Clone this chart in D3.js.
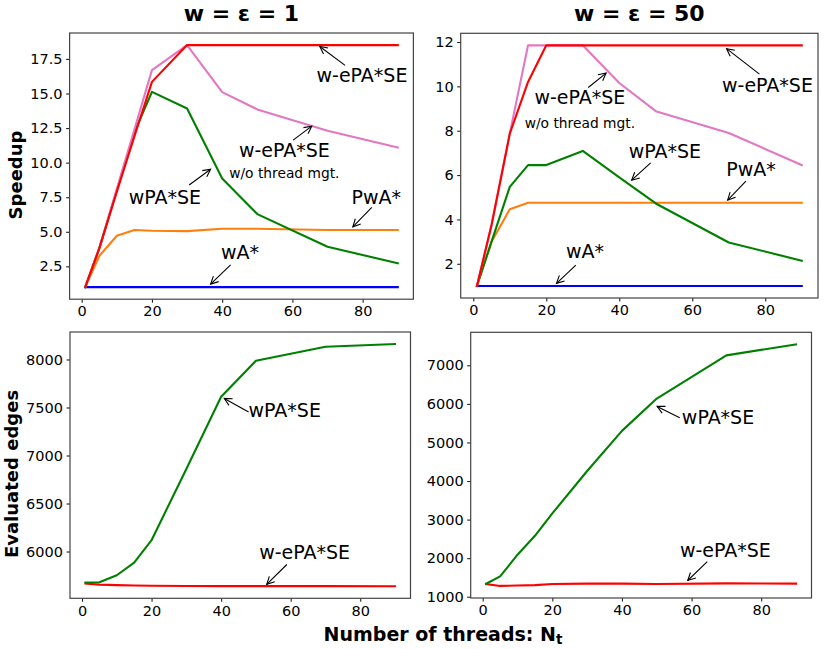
<!DOCTYPE html>
<html>
<head>
<meta charset="utf-8">
<script src="https://cdn.jsdelivr.net/npm/d3@7/dist/d3.min.js"></script>
<style>
  body { margin: 0; background: #fff; }
  svg { display: block; font-family: "DejaVu Sans", sans-serif; }
</style>
</head>
<body>
<svg id="chart" width="830" height="649"></svg>
<script>
// ---------------- DATA ----------------
const threads = [1, 5, 10, 15, 20, 30, 40, 50, 70, 90];
const xTicks = [0, 20, 40, 60, 80];

// Speedup, w = eps = 1
const wA_1      = [1, 1, 1, 1, 1, 1, 1, 1, 1, 1];
const PwA_1     = [1, 3.25, 4.71, 5.13, 5.08, 5.05, 5.22, 5.22, 5.13, 5.13];
const wPASE_1   = [1, 3.8, 8.0, 12.2, 15.12, 13.92, 8.86, 6.28, 3.92, 2.72];
const wePASEnoTM_1 = [1, 3.8, 8.1, 12.4, 16.69, 18.5, 15.1, 13.85, 12.3, 11.1];
const wePASE_1  = [1, 3.8, 7.9, 11.9, 15.84, 18.5, 18.5, 18.5, 18.5, 18.5];

// Speedup, w = eps = 50
const wA_50     = [1, 1, 1, 1, 1, 1, 1, 1, 1, 1];
const PwA_50    = [1, 2.99, 4.46, 4.75, 4.75, 4.75, 4.75, 4.75, 4.75, 4.75];
const wPASE_50  = [1, 3.0, 5.47, 6.45, 6.45, 7.09, 5.9, 4.72, 2.96, 2.14];
const wePASEnoTM_50 = [1, 3.75, 7.87, 11.85, 11.85, 11.85, 10.15, 8.88, 7.9, 6.45];
const wePASE_50 = [1, 3.75, 7.87, 10.2, 11.85, 11.85, 11.85, 11.85, 11.85, 11.85];

// Evaluated edges
const edges_wPASE_1   = [5677, 5680, 5753, 5885, 6118, 6860, 7612, 7987, 8132, 8160];
const edges_wePASE_1  = [5667, 5655, 5650, 5646, 5643, 5641, 5640, 5640, 5640, 5639];
const edges_wPASE_50  = [1336, 1527, 2090, 2580, 3160, 4260, 5300, 6137, 7258, 7543];
const edges_wePASE_50 = [1330, 1280, 1290, 1300, 1330, 1340, 1340, 1330, 1345, 1340];

const ticksSpeed1 = [2.5, 5.0, 7.5, 10.0, 12.5, 15.0, 17.5];
const ticksSpeed50 = [2, 4, 6, 8, 10, 12];
const ticksEdges1 = [6000, 6500, 7000, 7500, 8000];
const ticksEdges50 = [1000, 2000, 3000, 4000, 5000, 6000, 7000];

const titles = ["w = ε = 1", "w = ε = 50"];

// ---------------- STYLE / LAYOUT ----------------
const C = { wA: "#0000ff", PwA: "#ff7f0e", wPASE: "#008000", noTM: "#e377c2", wePASE: "#ff0000" };

const panels = [
  { box: [69.6, 413.4, 33.0, 299.2], series: [[wA_1, C.wA], [PwA_1, C.PwA], [wPASE_1, C.wPASE], [wePASEnoTM_1, C.noTM], [wePASE_1, C.wePASE]],
    yt: ticksSpeed1, fmt: d3.format(".1f"), title: titles[0],
    ann: [
      { t: "w-ePA*SE", tx: 79.8, ty: 15.8, ax: 75.0, ay: 17.03, hx: 67.8, hy: 18.4 },
      { t: "w-ePA*SE", t2: "w/o thread mgt.", tx: 57.7, ty: 10.42, ty2: 8.88, ax: 60.2, ay: 11.63, hx: 65.5, hy: 12.64 },
      { t: "wPA*SE", tx: 23.7, ty: 7.03, ax: 30.6, ay: 8.38, hx: 36.7, hy: 9.52 },
      { t: "PwA*", tx: 83.9, ty: 7.0, ax: 82.6, ay: 6.77, hx: 77.2, hy: 5.36 },
      { t: "wA*", tx: 45.1, ty: 3.0, ax: 42.4, ay: 2.6, hx: 36.7, hy: 1.22 }
    ] },
  { box: [460.7, 818.0, 33.3, 298.0], series: [[wA_50, C.wA], [PwA_50, C.PwA], [wPASE_50, C.wPASE], [wePASEnoTM_50, C.noTM], [wePASE_50, C.wePASE]],
    yt: ticksSpeed50, fmt: d3.format("d"), title: titles[1],
    ann: [
      { t: "w-ePA*SE", tx: 80.6, ty: 9.75, ax: 78.4, ay: 10.55, hx: 69.4, hy: 11.7 },
      { t: "w-ePA*SE", t2: "w/o thread mgt.", tx: 29.2, ty: 9.19, ty2: 8.13, ax: 31.5, ay: 9.95, hx: 36.4, hy: 10.6 },
      { t: "wPA*SE", tx: 52.5, ty: 6.75, ax: 48.6, ay: 6.55, hx: 43.4, hy: 5.77 },
      { t: "PwA*", tx: 76.1, ty: 5.95, ax: 74.7, ay: 5.73, hx: 69.7, hy: 4.87 },
      { t: "wA*", tx: 30.6, ty: 2.24, ax: 28.1, ay: 1.94, hx: 22.8, hy: 1.12 }
    ] },
  { box: [70.0, 410.5, 332.0, 598.3], series: [[edges_wePASE_1, C.wePASE], [edges_wPASE_1, C.wPASE]],
    yt: ticksEdges1, fmt: d3.format("d"),
    ann: [
      { t: "wPA*SE", tx: 58.3, ty: 7402, ax: 47.9, ay: 7454, hx: 40.9, hy: 7594 },
      { t: "w-ePA*SE", tx: 64.0, ty: 5917, ax: 58.9, ay: 5865, hx: 53.1, hy: 5659 }
    ] },
  { box: [470.7, 811.5, 332.3, 598.0], series: [[edges_wePASE_50, C.wePASE], [edges_wPASE_50, C.wPASE]],
    yt: ticksEdges50, fmt: d3.format("d"),
    ann: [
      { t: "wPA*SE", tx: 67.6, ty: 5488, ax: 56.6, ay: 5643, hx: 50.1, hy: 5935 },
      { t: "w-ePA*SE", tx: 69.7, ty: 2041, ax: 64.5, ay: 1912, hx: 58.9, hy: 1421 }
    ] }
];

const svg = d3.select("#chart");

function padDomain(arrs) {
  const all = arrs.flat();
  const lo = d3.min(all), hi = d3.max(all), p = (hi - lo) * 0.05;
  return [lo - p, hi + p];
}

const xDom = [threads[0] - (threads[threads.length-1] - threads[0]) * 0.05,
              threads[threads.length-1] + (threads[threads.length-1] - threads[0]) * 0.05];

panels.forEach(p => {
  const [l, r, t, b] = p.box;
  const x = d3.scaleLinear().domain(xDom).range([l, r]);
  const y = d3.scaleLinear().domain(padDomain(p.series.map(s => s[0]))).range([b, t]);
  const g = svg.append("g");

  const clipId = "clip" + Math.round(l) + Math.round(t);
  svg.append("clipPath").attr("id", clipId).append("rect")
    .attr("x", l).attr("y", t).attr("width", r - l).attr("height", b - t);

  const line = d3.line().x((d, i) => x(threads[i])).y(d => y(d));
  const lg = g.append("g").attr("clip-path", `url(#${clipId})`);
  p.series.forEach(([vals, col]) => {
    lg.append("path").datum(vals).attr("d", line)
      .attr("fill", "none").attr("stroke", col).attr("stroke-width", 2.1)
      .attr("stroke-linejoin", "round").attr("stroke-linecap", "square");
  });

  // axes
  const xa = g.append("g").attr("transform", `translate(0,${b})`)
    .call(d3.axisBottom(x).tickValues(xTicks).tickSize(3.5).tickPadding(3.5));
  const ya = g.append("g").attr("transform", `translate(${l},0)`)
    .call(d3.axisLeft(y).tickValues(p.yt).tickFormat(p.fmt).tickSize(3.5).tickPadding(3.5));
  [xa, ya].forEach(a => {
    a.select(".domain").remove();
    a.selectAll("line").attr("stroke", "#222").attr("stroke-width", 1.1);
    a.selectAll("text").attr("fill", "#000").style("font-size", "14.5px")
      .style("font-family", "DejaVu Sans, sans-serif");
  });

  // frame
  g.append("rect").attr("x", l).attr("y", t).attr("width", r - l).attr("height", b - t)
    .attr("fill", "none").attr("stroke", "#444").attr("stroke-width", 1.2);

  // annotations
  p.ann.forEach(a => {
    const hx = x(a.hx), hy = y(a.hy), tx0 = x(a.ax), ty0 = y(a.ay);
    g.append("line").attr("x1", tx0).attr("y1", ty0).attr("x2", hx).attr("y2", hy)
      .attr("stroke", "#000").attr("stroke-width", 1.1);
    const ang = Math.atan2(hy - ty0, hx - tx0);
    const hl = 7.5, hw = 3.8;
    const bx = hx - hl * Math.cos(ang), by = hy - hl * Math.sin(ang);
    const nx = -Math.sin(ang) * hw, ny = Math.cos(ang) * hw;
    g.append("path")
      .attr("d", `M${bx + nx},${by + ny}L${hx},${hy}L${bx - nx},${by - ny}`)
      .attr("fill", "none").attr("stroke", "#000").attr("stroke-width", 1.1);
    g.append("text").attr("x", x(a.tx)).attr("y", y(a.ty))
      .attr("text-anchor", "middle").style("font-size", "19px").attr("fill", "#000").text(a.t);
    if (a.t2) {
      g.append("text").attr("x", x(a.tx)).attr("y", y(a.ty2))
        .attr("text-anchor", "middle").style("font-size", "13.8px").attr("fill", "#000").text(a.t2);
    }
  });

  if (p.title) {
    svg.append("text").attr("x", (l + r) / 2).attr("y", 20.5)
      .attr("text-anchor", "middle").style("font-size", "22px").style("font-weight", "bold")
      .text(p.title);
  }
});

// y labels
svg.append("text").attr("transform", "translate(22,175) rotate(-90)")
  .attr("text-anchor", "middle").style("font-size", "18px").style("font-weight", "bold").text("Speedup");
svg.append("text").attr("transform", "translate(18,474) rotate(-90)")
  .attr("text-anchor", "middle").style("font-size", "18px").style("font-weight", "bold").text("Evaluated edges");

// x label
const xl = svg.append("text").attr("x", 443).attr("y", 641)
  .attr("text-anchor", "middle").style("font-size", "19px").style("font-weight", "bold");
xl.append("tspan").text("Number of threads: N");
xl.append("tspan").attr("dy", 3).style("font-size", "13.5px").text("t");
</script>
</body>
</html>
